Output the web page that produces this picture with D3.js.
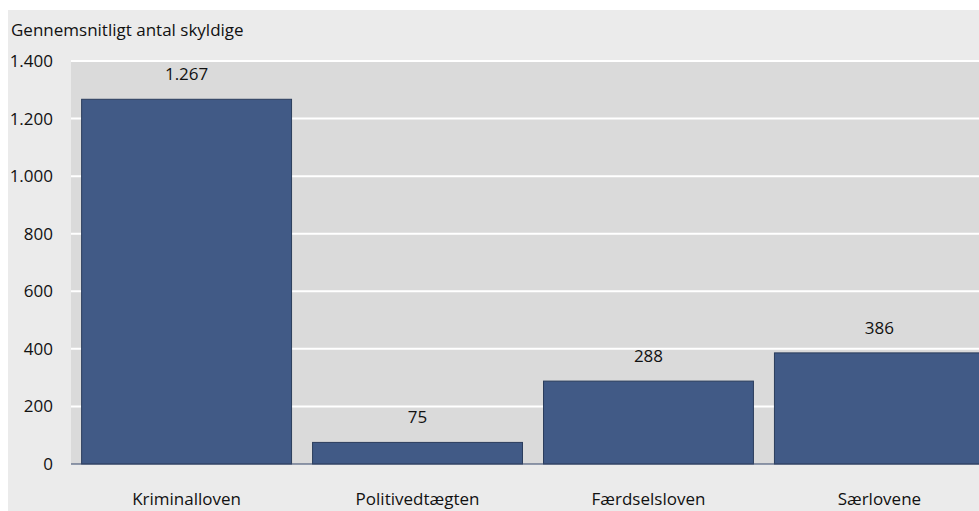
<!DOCTYPE html>
<html>
<head>
<meta charset="utf-8">
<script src="https://cdn.jsdelivr.net/npm/d3@7"></script>
<style>
  body { margin: 0; background: #fff; }
  text { font-family: "Open Sans", sans-serif; fill: #111; }
</style>
</head>
<body>
<div id="chartbox"></div>
<script>
// data
var categories = ['Kriminalloven', 'Politivedtægten', 'Færdselsloven', 'Særlovene'];
var values = [1267, 75, 288, 386];
var yTicks = [0, 200, 400, 600, 800, 1000, 1200, 1400];
var yTitle = 'Gennemsnitligt antal skyldige';

const width = 979;
const height = 511;
const fs = '17px';

var svg = d3.select('#chartbox').append('svg')
  .attr('width', width).attr('height', height);

// outer background panel
svg.append('rect').attr('x', 8).attr('y', 10).attr('width', width - 8).attr('height', height - 10)
  .attr('fill', '#ebebeb');

var margin = {top: 61, left: 71, bottom: 464, right: 995};

var x = d3.scaleBand().domain(categories).range([margin.left, margin.right])
  .paddingInner(0.091).paddingOuter(0.046);
var y = d3.scaleLinear().domain([0, 1400]).range([margin.bottom, margin.top]);

// plot bg
svg.append('rect').attr('x', margin.left).attr('y', margin.top)
  .attr('width', margin.right - margin.left).attr('height', margin.bottom - margin.top)
  .attr('fill', '#dadada');

// gridlines
svg.append('g').selectAll('line').data(yTicks.filter(d => d > 0)).join('line')
  .attr('x1', margin.left).attr('x2', margin.right)
  .attr('y1', d => y(d)).attr('y2', d => y(d))
  .attr('stroke', '#fff').attr('stroke-width', 2);

// y tick labels
svg.append('g').selectAll('text').data(yTicks).join('text')
  .attr('x', 53).attr('y', d => y(d)).attr('dy', '0.35em')
  .attr('text-anchor', 'end').style('font-size', fs)
  .text(d => d3.format(',')(d).replace(/,/g, '.'));

// title
svg.append('text').attr('x', 11).attr('y', 36).style('font-size', fs).text(yTitle);

// bars
svg.append('g').selectAll('rect').data(values).join('rect')
  .attr('x', (d, i) => x(categories[i])).attr('width', x.bandwidth())
  .attr('y', d => y(d)).attr('height', d => y(0) - y(d))
  .attr('fill', '#415a86').attr('stroke', '#2b3d5c').attr('stroke-width', 1);

// zero line
svg.append('line').attr('x1', margin.left).attr('x2', margin.right)
  .attr('y1', y(0)).attr('y2', y(0)).attr('stroke', '#34476a').attr('stroke-width', 1.2);

// value labels
svg.append('g').selectAll('text').data(values).join('text')
  .attr('x', (d, i) => x(categories[i]) + x.bandwidth() / 2)
  .attr('y', d => y(d) - 19)
  .attr('text-anchor', 'middle').style('font-size', fs)
  .text(d => d3.format(',')(d).replace(/,/g, '.'));

// category labels
svg.append('g').selectAll('text').data(categories).join('text')
  .attr('x', d => x(d) + x.bandwidth() / 2).attr('y', 505)
  .attr('text-anchor', 'middle').style('font-size', fs)
  .text(d => d);
</script>
</body>
</html>
